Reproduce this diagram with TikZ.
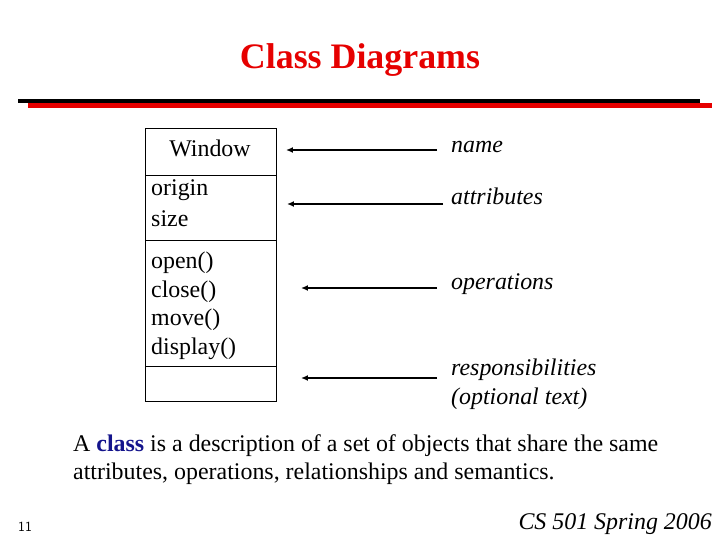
\documentclass[tikz,border=0pt]{standalone}
\usepackage{fontspec}
\setmainfont{Liberation Serif}
\usetikzlibrary{arrows.meta}
\definecolor{titlered}{RGB}{230,0,0}
\definecolor{classblue}{RGB}{20,20,140}
\tikzset{
  item/.style={anchor=west, inner sep=0pt, font=\fontsize{24}{26}\selectfont},
  role/.style={anchor=west, inner sep=0pt, font=\fontsize{24}{26}\selectfont\itshape},
  pointer/.style={-{Latex[length=7pt,width=6pt]}, line width=1.6pt}
}
\begin{document}
\begin{tikzpicture}[x=1bp, y=-1bp]
        \useasboundingbox (0,0) rectangle (720,540);
        \node[font=\fontsize{36}{40}\selectfont\bfseries, text=titlered] (title) at (360,60) {Class Diagrams};
        \fill[black] (18,99) rectangle (700,103);
        \fill[titlered] (28,103) rectangle (712,108);
        % class box
        \draw[line width=0.8pt] (145,128) rectangle (276,401);
        \draw[line width=0.8pt] (145,175) -- (276,175);
        \draw[line width=0.8pt] (145,240) -- (276,240);
        \draw[line width=0.8pt] (145,366) -- (276,366);
        \node[font=\fontsize{24}{26}\selectfont] (cname) at (210,148) {Window};
        \node[item] (origin) at (151,190) {origin};
        \node[item] (size) at (151,219) {size};
        \node[item] (open) at (151,263) {open()};
        \node[item] (close) at (151,292) {close()};
        \node[item] (move) at (151,320) {move()};
        \node[item] (display) at (151,349) {display()};
        % roles
        \node[role] (name) at (451,147) {name};
        \node[role] (attr) at (451,196) {attributes};
        \node[role] (ops) at (451,284) {operations};
        \node[role] (resp) at (451,370) {responsibilities};
        \node[role] (opt) at (451,399) {(optional text)};
        \coordinate (n1) at (437,150); \coordinate (n2) at (286,150);
        \coordinate (a1) at (443,204); \coordinate (a2) at (287,204);
        \coordinate (o1) at (437,288); \coordinate (o2) at (301,288);
        \coordinate (r1) at (437,378); \coordinate (r2) at (301,378);
        \draw[pointer] (n1) -- (n2);
        \draw[pointer] (a1) -- (a2);
        \draw[pointer] (o1) -- (o2);
        \draw[pointer] (r1) -- (r2);
        % description
        \node[item] (desc1) at (73,446) {A \textcolor{classblue}{\bfseries class} is a description of a set of objects that share the same};
        \node[item] (desc2) at (73,474) {attributes, operations, relationships and semantics.};
        \node[font=\fontsize{14}{16}\selectfont\sffamily, anchor=west, inner sep=0pt] (page) at (18,527) {11};
        \node[role, anchor=east] (course) at (712,524) {CS 501 Spring 2006};
\end{tikzpicture}
\end{document}
